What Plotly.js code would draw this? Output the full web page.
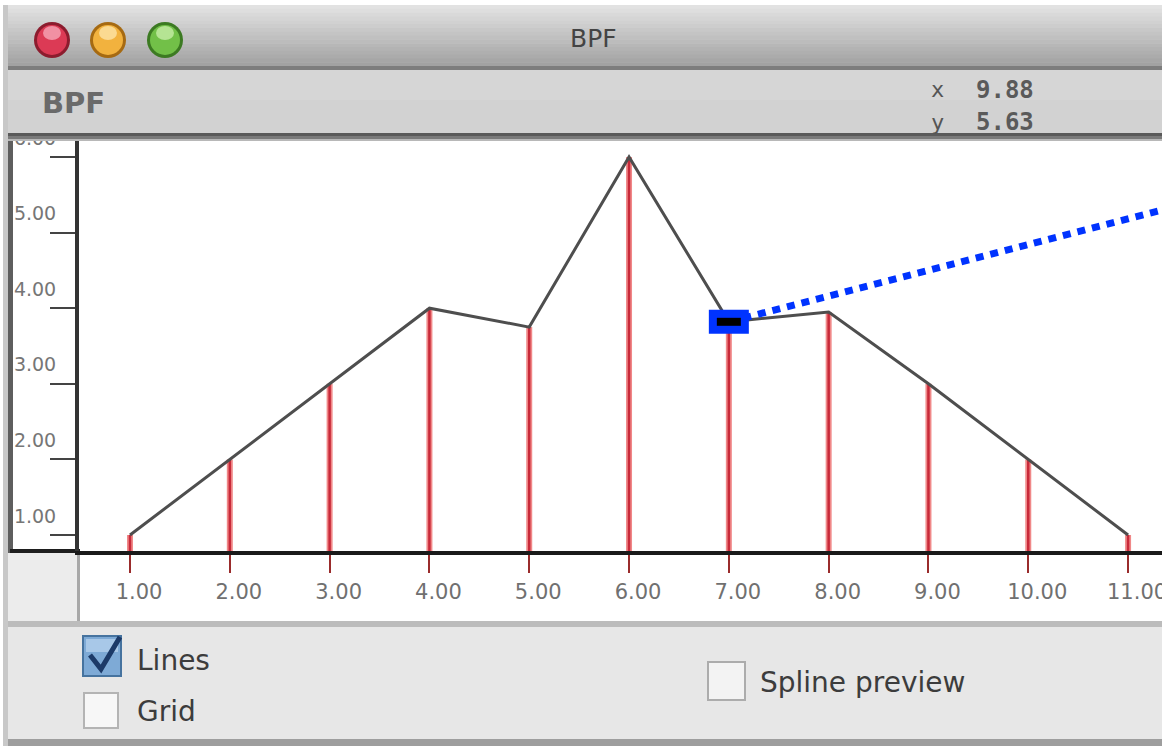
<!DOCTYPE html>
<html><head><meta charset="utf-8">
<script src="https://cdn.plot.ly/plotly-3.0.1.min.js"></script>
<style>html,body{margin:0;padding:0;background:#fff;overflow:hidden}#chart{width:1162px;height:746px}</style>
</head><body><div id="chart"></div>
<script>
// ---- data ----
const xValues = [1, 2, 3, 4, 5, 6, 7, 8, 9, 10, 11];
const yValues = [1.0, 2.0, 3.0, 4.0, 3.75, 6.0, 3.82, 3.95, 3.0, 2.0, 1.0];
const xTickVals = [1, 2, 3, 4, 5, 6, 7, 8, 9, 10, 11];
const xTickText = ['1.00', '2.00', '3.00', '4.00', '5.00', '6.00', '7.00', '8.00', '9.00', '10.00', '11.00'];
const yTickVals = [1, 2, 3, 4, 5, 6];
const yTickText = ['1.00', '2.00', '3.00', '4.00', '5.00', '6.00'];
const selectedIndex = 6;
const pointerEnd = {x: 11.4, y: 5.32};
const windowTitle = 'BPF';
const cursorX = '9.88';
const cursorY = '5.63';
const checkLabels = ['Lines', 'Grid', 'Spline preview'];

// ---- figure geometry helpers (window chrome) ----
const W = 1162, H = 746;
const px = v => v / W, py = v => 1 - v / H;
function rect(x0, y0, x1, y1, fill, layer, line) {
  return {type: 'rect', xref: 'paper', yref: 'paper', x0: px(x0), x1: px(x1), y0: py(y0), y1: py(y1),
    fillcolor: fill, line: line || {width: 0}, layer: layer || 'below'};
}
function circ(cx, cy, r, fill, layer, line) {
  return {type: 'circle', xref: 'paper', yref: 'paper', x0: px(cx - r), x1: px(cx + r), y0: py(cy + r), y1: py(cy - r),
    fillcolor: fill, line: line || {width: 0}, layer: layer || 'above'};
}
function mix(a, b, t) {
  const pa = [1,3,5].map(i => parseInt(a.substr(i, 2), 16));
  const pb = [1,3,5].map(i => parseInt(b.substr(i, 2), 16));
  return 'rgb(' + pa.map((v, i) => Math.round(v + (pb[i] - v) * t)).join(',') + ')';
}
function text(t, x, y, size, color, opts) {
  return Object.assign({text: t, xref: 'paper', yref: 'paper', x: px(x), y: py(y), showarrow: false,
    xanchor: 'left', yanchor: 'middle', font: {family: 'DejaVu Sans', size: size, color: color}}, opts || {});
}

const shapes = [];
// title bar gradient
const tbTop = 5, tbBot = 66, steps = 16;
for (let i = 0; i < steps; i++) {
  const y0 = tbTop + (tbBot - tbTop) * i / steps, y1 = tbTop + (tbBot - tbTop) * (i + 1) / steps + 0.5;
  shapes.push(rect(8, y0, W, y1, mix('#e2e2e2', '#a2a2a2', i / (steps - 1)), 'above'));
}
shapes.push(rect(8, 66, W, 70, '#7d7d7d', 'above'));
// toolbar
shapes.push(rect(8, 70, W, 100, '#d6d6d6', 'above'));
shapes.push(rect(8, 100, W, 133, '#d2d2d2', 'above'));
shapes.push(rect(8, 133, W, 136, '#5a5a5a', 'above'));
shapes.push(rect(8, 136, W, 139, '#7a7a7a', 'above'));
shapes.push(rect(8, 139, W, 141, '#b8b8b8', 'above'));
// left y panel border
shapes.push(rect(7, 141, 13, 553, '#5e5e5e', 'below'));
shapes.push(rect(3, 5, 8, 746, '#c8c8c8', 'below'));
// bottom axis extension under y panel
shapes.push(rect(10, 549, 80, 553, '#1e1e1e', 'below'));
// area under y panel
shapes.push(rect(8, 553, 79, 626, '#ececec', 'below'));
// x label strip
shapes.push(rect(79, 553, W, 622, '#ffffff', 'below'));
shapes.push(rect(77, 553, 80, 622, '#a8a8a8', 'below'));
shapes.push(rect(8, 621, W, 627, '#bcbcbc', 'below'));
// bottom panel
shapes.push(rect(8, 627, W, 739, '#e7e7e7', 'below'));
shapes.push(rect(8, 739, W, 746, '#9e9e9e', 'below'));
// traffic lights
[[52, '#8c1c2e', '#dc3a55', '#f6a6b6'], [108, '#a66a12', '#f2b23e', '#fde3a6'], [165, '#3c7a22', '#72c048', '#c6eca6']]
  .forEach(([cx, ring, fill, hi]) => {
    shapes.push(circ(cx, 40, 18, ring));
    shapes.push(circ(cx, 40, 15, fill));
    shapes.push({type: 'circle', xref: 'paper', yref: 'paper', x0: px(cx - 9), x1: px(cx + 9), y0: py(40), y1: py(26),
      fillcolor: hi, line: {width: 0}, layer: 'above', opacity: 0.8});
  });
// checkboxes
shapes.push(rect(83, 636, 121, 676, '#7eaad6', 'below', {color: '#46739f', width: 2}));
shapes.push(rect(86, 639, 118, 652, '#a8c8e8', 'below'));
shapes.push({type: 'path', xref: 'paper', yref: 'paper', layer: 'below',
  path: 'M ' + px(90) + ' ' + py(655) + ' L ' + px(101) + ' ' + py(669) + ' L ' + px(120) + ' ' + py(637),
  line: {color: '#1c3a68', width: 5}});
shapes.push(rect(84, 693, 118, 728, '#f7f7f7', 'below', {color: '#b4b4b4', width: 2}));
shapes.push(rect(708, 662, 745, 700, '#f3f3f3', 'below', {color: '#acacac', width: 2}));

// ---- data-driven selection highlight ----
const sx = xValues[selectedIndex], sy = yValues[selectedIndex];
shapes.push({type: 'line', xref: 'x', yref: 'y', x0: sx, y0: sy, x1: pointerEnd.x, y1: pointerEnd.y,
  line: {color: '#0033ff', width: 7, dash: '8px,7px'}, layer: 'above'});
shapes.push({type: 'rect', xref: 'x', yref: 'y', xsizemode: 'pixel', ysizemode: 'pixel', xanchor: sx, yanchor: sy,
  x0: -20, x1: 20, y0: -12, y1: 12, fillcolor: '#0033ff', line: {width: 0}, layer: 'above'});
shapes.push({type: 'rect', xref: 'x', yref: 'y', xsizemode: 'pixel', ysizemode: 'pixel', xanchor: sx, yanchor: sy,
  x0: -12, x1: 12, y0: -4, y1: 4, fillcolor: '#000000', line: {width: 0}, layer: 'above'});

// ---- traces ----
const stemX = [], stemY = [];
xValues.forEach((x, i) => { stemX.push(x, x, null); stemY.push(0, yValues[i], null); });
const traces = [
  {x: stemX, y: stemY, mode: 'lines', line: {color: '#f08888', width: 6}, hoverinfo: 'skip', showlegend: false},
  {x: stemX, y: stemY, mode: 'lines', line: {color: '#c82a3a', width: 2.5}, hoverinfo: 'skip', showlegend: false},
  {x: xValues, y: yValues, mode: 'lines', line: {color: '#4e4e4e', width: 3}, showlegend: false}
];

const annotations = [
  text(windowTitle, 593, 38, 25, '#444444', {xanchor: 'center'}),
  text('<b>' + windowTitle + '</b>', 40, 103, 29, '#6a6a6a'),
  text('x', 929, 90, 22, '#555555', {font: {family: 'DejaVu Sans Mono', size: 22, color: '#555'}}),
  text('<b>' + cursorX + '</b>', 974, 90, 24, '#5a5a5a', {font: {family: 'DejaVu Sans Mono', size: 24, color: '#5a5a5a'}}),
  text('y', 929, 122, 22, '#555555', {font: {family: 'DejaVu Sans Mono', size: 22, color: '#555'}}),
  text('<b>' + cursorY + '</b>', 974, 122, 24, '#5a5a5a', {font: {family: 'DejaVu Sans Mono', size: 24, color: '#5a5a5a'}}),
  text(checkLabels[0], 135, 660, 28, '#3c3c3c'),
  text(checkLabels[1], 135, 711, 28, '#3c3c3c'),
  text(checkLabels[2], 758, 682, 28, '#3c3c3c')
];

const layout = {
  width: W, height: H,
  margin: {l: 0, r: 0, t: 0, b: 0},
  paper_bgcolor: '#ffffff', plot_bgcolor: '#ffffff',
  showlegend: false,
  xaxis: {
    domain: [79 / W, 1], range: [0.489, 11.34], showgrid: false, zeroline: false,
    showline: true, linecolor: '#1a1a1a', linewidth: 4,
    ticks: 'outside', ticklen: 18, tickwidth: 2, tickcolor: '#9a2c2c',
    tickvals: xTickVals, ticktext: xTickText, ticklabelshift: 9, ticklabelstandoff: 1,
    ticklabeloverflow: 'allow',
    tickfont: {family: 'DejaVu Sans', size: 21, color: '#707070'}, fixedrange: true
  },
  yaxis: {
    domain: [(H - 551) / H, (H - 141) / H], range: [0.788, 6.212], showgrid: false, zeroline: false,
    showline: true, linecolor: '#333333', linewidth: 4,
    ticks: 'outside', ticklen: 25, tickwidth: 2, tickcolor: '#444444',
    tickvals: yTickVals, ticktext: yTickText, ticklabelshift: -19, ticklabelstandoff: -10,
    ticklabeloverflow: 'allow',
    tickfont: {family: 'DejaVu Sans', size: 19, color: '#767676'}, fixedrange: true
  },
  shapes: shapes,
  annotations: annotations
};

Plotly.newPlot('chart', traces, layout, {displayModeBar: false, staticPlot: true});
</script>
</body></html>
